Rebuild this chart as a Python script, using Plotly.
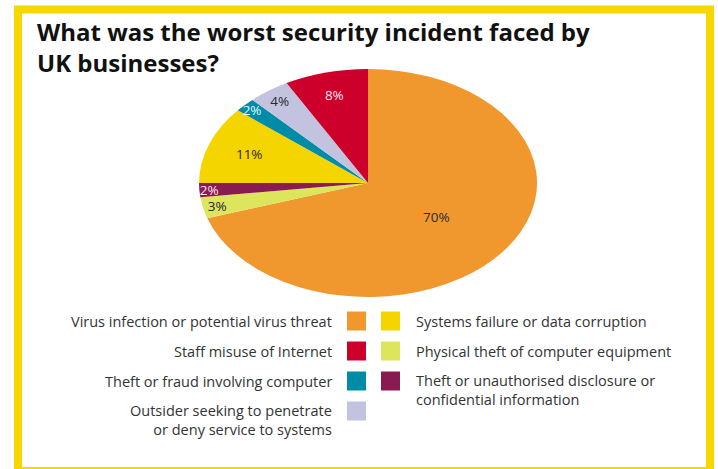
import plotly.graph_objects as go

W, H = 718, 469

# ---- data ----
categories = [
    "Virus infection or potential virus threat",
    "Physical theft of computer equipment",
    "Theft or unauthorised disclosure or<br>confidential information",
    "Systems failure or data corruption",
    "Theft or fraud involving computer",
    "Outsider seeking to penetrate<br>or deny service to systems",
    "Staff misuse of Internet",
]
values = [70, 3, 2, 11, 2, 4, 8]
colors = ["#F0982D", "#DCE55B", "#8A1A52", "#F5D500", "#008BA7", "#C3C3E0", "#CC002B"]
text_colors = ["#2a2a2a", "#2a2a2a", "#f4e6ee", "#2a2a2a", "#e8f4f8", "#2a2a2a", "#fbe3e8"]

legend_left = [0, 6, 4, 5]   # indices into categories
legend_right = [3, 1, 2]

title_text = "What was the worst security incident faced by<br>UK businesses?"

FONT = "Open Sans"

def px(x):
    return x / W

def py(y):
    return 1 - y / H

# pie geometry (pixels)
CX, CY, RX, RY = 368, 183, 169, 114

fig = go.Figure()
fig.add_trace(go.Pie(
    labels=categories,
    values=values,
    sort=False,
    direction="clockwise",
    rotation=0,
    marker=dict(colors=colors, line=dict(width=0)),
    textinfo="percent",
    textposition="inside",
    insidetextorientation="horizontal",
    textfont=dict(family=FONT, size=13.5, color=text_colors),
    hoverinfo="label+percent",
    showlegend=False,
    domain=dict(x=[px(CX - RX), px(CX + RX)], y=[py(CY + RX), py(CY - RX)]),
))

shapes = []
annotations = []

# frame
shapes.append(dict(type="rect", xref="paper", yref="paper",
                   x0=px(18), x1=px(710), y0=py(471), y1=py(9.5),
                   line=dict(color="#F6D800", width=8), fillcolor="rgba(0,0,0,0)"))

# title
annotations.append(dict(text="<b>" + title_text + "</b>", xref="paper", yref="paper",
                        x=px(35), y=py(13), xanchor="left", yanchor="top", align="left",
                        showarrow=False, font=dict(family=FONT, size=24, color="#111111")))

# legend
row_y = [321, 351, 381, 411]
FS = 14.5
legend_font = dict(family=FONT, size=FS, color="#333333")

def add_item(idx, row, side):
    yc = row_y[row]
    if side == "left":
        sx0 = 347
        tx, anchor, align = 334, "right", "right"
    else:
        sx0 = 381
        tx, anchor, align = 414, "left", "left"
    shapes.append(dict(type="rect", xref="paper", yref="paper",
                       x0=px(sx0), x1=px(sx0 + 19), y0=py(yc + 9.5), y1=py(yc - 9.5),
                       line=dict(width=0), fillcolor=colors[idx]))
    n = len(categories[idx].split("<br>"))
    ymid = yc + (n - 1) * 1.3 * FS / 2
    annotations.append(dict(text=categories[idx], xref="paper", yref="paper",
                            x=px(tx), y=py(ymid), xanchor=anchor, yanchor="middle", align=align,
                            showarrow=False, font=legend_font))

for r, i in enumerate(legend_left):
    add_item(i, r, "left")
for r, i in enumerate(legend_right):
    add_item(i, r, "right")

fig.update_layout(
    width=W, height=H,
    margin=dict(l=0, r=0, t=0, b=0),
    paper_bgcolor="white", plot_bgcolor="white",
    shapes=shapes, annotations=annotations,
    uniformtext=dict(minsize=13.5, mode="show"),
    font=dict(family=FONT),
)

squash = RY / RX
post = """
document.body.style.margin = '0';
var gd = document.getElementById('{plot_id}');
var s = %f;
var groups = gd.querySelectorAll('.pielayer g.trace');
groups.forEach(function(g) {
  var cy = %f;
  try { cy = gd.calcdata[0][0].cy; } catch (e) {}
  g.querySelectorAll('g.slicetext text').forEach(function(t) {
    var bb = t.getBBox();
    var cxb = bb.x + bb.width / 2, cyb = bb.y + bb.height / 2;
    var m = t.transform.baseVal.consolidate();
    var pxx = cxb, pyy = cyb;
    if (m) { var M = m.matrix; pxx = M.a*cxb + M.c*cyb + M.e; pyy = M.b*cxb + M.d*cyb + M.f; }
    var orig = t.getAttribute('transform') || '';
    t.setAttribute('transform', 'translate(' + pxx + ',' + pyy + ') scale(1,' + (1/s) + ') translate(' + (-pxx) + ',' + (-pyy) + ') ' + orig);
  });
  g.setAttribute('transform', 'translate(0,' + (cy * (1 - s)) + ') scale(1,' + s + ')');
});
""" % (squash, CY)

fig.write_html("out.html", post_script=post, config={"displayModeBar": False})
